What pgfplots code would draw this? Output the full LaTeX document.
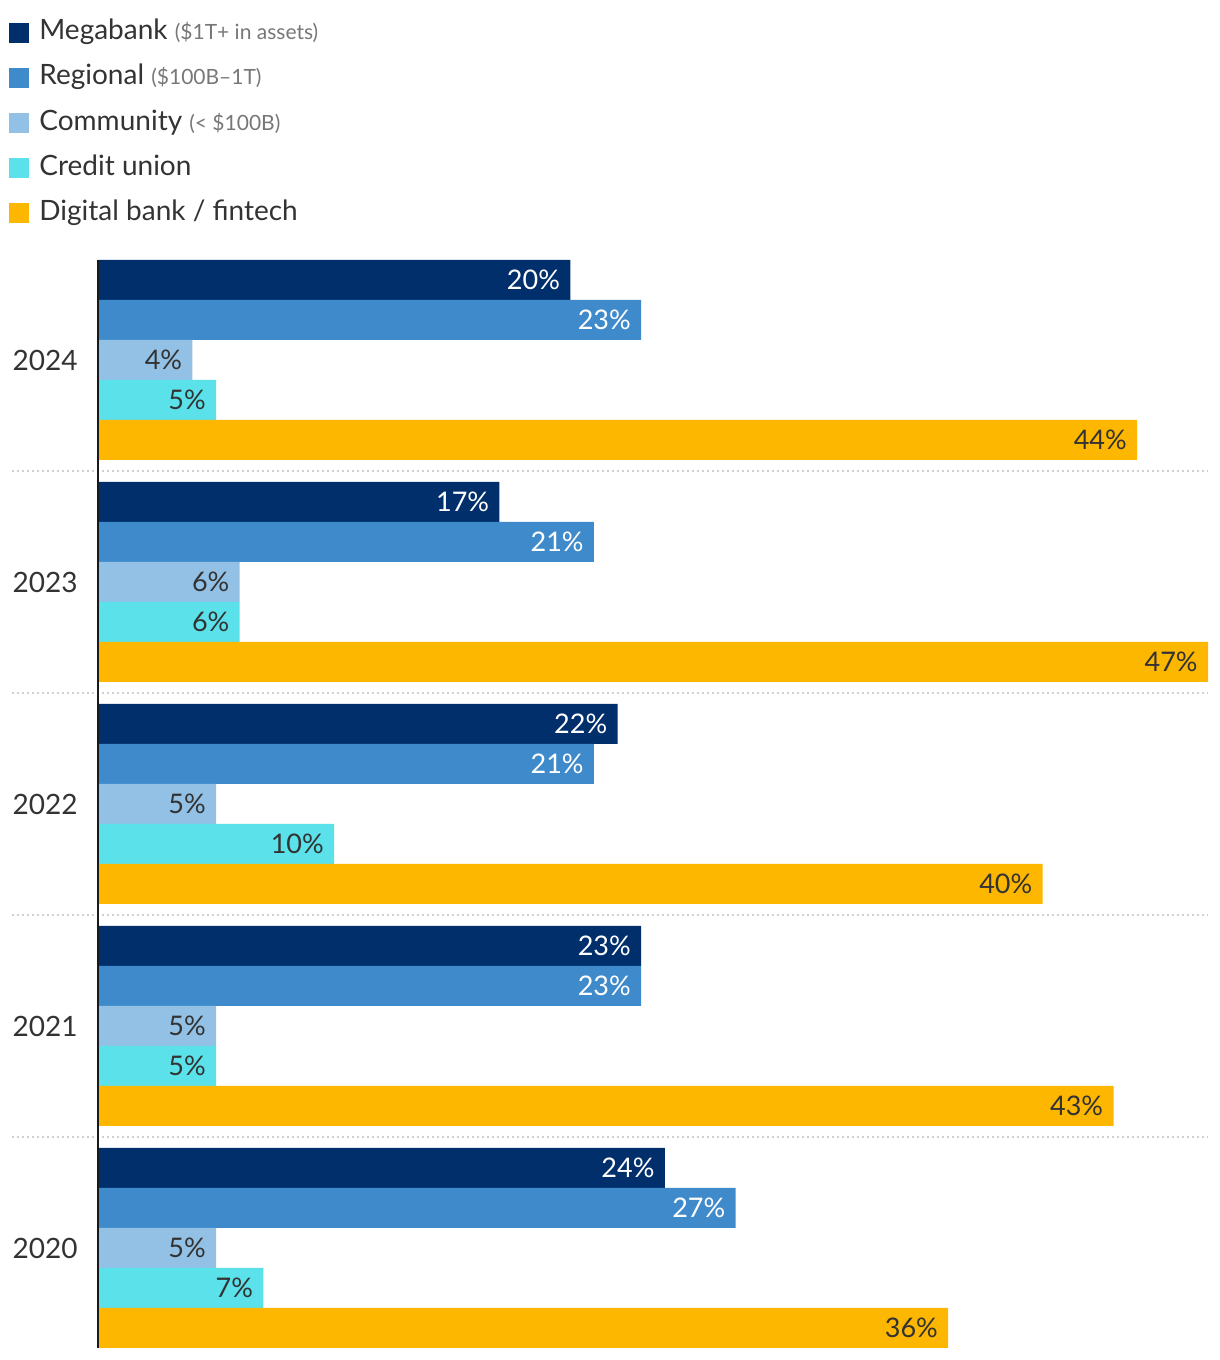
\documentclass[border=0pt]{standalone}
\usepackage{pgfplots}
\pgfplotsset{compat=1.18}
\usepackage{pgfplotstable}
\usepackage{fontspec}
\setmainfont{Lato}
\definecolor{mega}{HTML}{002F6C}
\definecolor{regional}{HTML}{3F8ACB}
\definecolor{community}{HTML}{93C1E6}
\definecolor{credit}{HTML}{5AE1EA}
\definecolor{digital}{HTML}{FDB700}
\definecolor{txt}{HTML}{333333}
\definecolor{sub}{HTML}{777777}
\definecolor{sepc}{HTML}{D0D0D0}

\pgfplotstableread{
pos year mega regional community credit digital
0 2020 24 27 5 7 36
1 2021 23 23 5 5 43
2 2022 22 21 5 10 40
3 2023 17 21 6 6 47
4 2024 20 23 4 5 44
}\data

\begin{document}
\begin{tikzpicture}
\begin{axis}[
 scale only axis, width=555pt, height=544pt,
 xbar, bar width=20pt,
 xmin=0, xmax=47, ymin=-0.45045, ymax=4.45045,
 axis x line=none, axis y line*=left,
 axis on top=true,
 y axis line style={line width=1pt, color=black!90},
 ytick={0,1,2,3,4}, yticklabels={2020,2021,2022,2023,2024},
 major tick length=0pt,
 yticklabel style={font=\fontsize{14}{16}\selectfont, text=txt, inner sep=0pt, xshift=-10pt},
 clip=false,
 point meta=x,
 /pgf/number format/assume math mode=true,
 nodes near coords={\pgfmathprintnumber{\pgfplotspointmeta}\%},
 every node near coord/.append style={anchor=east, xshift=-5pt, font=\fontsize{13.5}{16}\selectfont, inner sep=0pt},
 legend cell align=left,
 legend style={draw=none, fill=none, at={(0,1)}, anchor=north west, xshift=-47.5pt, yshift=122.5pt,
   row sep=9.4pt, column sep=5pt,
   nodes={inner sep=0pt, text height=10.2pt, text depth=3pt, font=\fontsize{14}{16}\selectfont, text=txt}},
 legend image code/.code={\fill[#1, draw=none] (0pt,-5pt) rectangle (10pt,5pt);},
]
\addplot[fill=mega, draw=none, bar shift=40pt, every node near coord/.append style={text=white}] table[x=mega, y=pos] {\data};
\addlegendentry{Megabank {\color{sub}\fontsize{10.5}{12}\selectfont (\$1T+ in assets)}}
\addplot[fill=regional, draw=none, bar shift=20pt, every node near coord/.append style={text=white}] table[x=regional, y=pos] {\data};
\addlegendentry{Regional {\color{sub}\fontsize{10.5}{12}\selectfont (\$100B–1T)}}
\addplot[fill=community, draw=none, bar shift=0pt, every node near coord/.append style={text=txt}] table[x=community, y=pos] {\data};
\addlegendentry{Community {\color{sub}\fontsize{10.5}{12}\selectfont (< \$100B)}}
\addplot[fill=credit, draw=none, bar shift=-20pt, every node near coord/.append style={text=txt}] table[x=credit, y=pos] {\data};
\addlegendentry{Credit union}
\addplot[fill=digital, draw=none, bar shift=-40pt, every node near coord/.append style={text=txt}] table[x=digital, y=pos] {\data};
\addlegendentry{Digital bank / fintech}
\pgfplotsinvokeforeach{0.5,1.5,2.5,3.5}{
  \draw[sepc, line width=1pt, dash pattern=on 1pt off 1.5pt] (axis cs:-3.64,#1) -- (axis cs:47,#1);
}
\end{axis}
\path (current axis.south west) ++(-49pt,-6pt) coordinate (bl);
\path (current axis.north east) ++(6pt,130pt) coordinate (tr);
\pgfresetboundingbox
\path[use as bounding box] (bl) rectangle (tr);
\end{tikzpicture}
\end{document}
